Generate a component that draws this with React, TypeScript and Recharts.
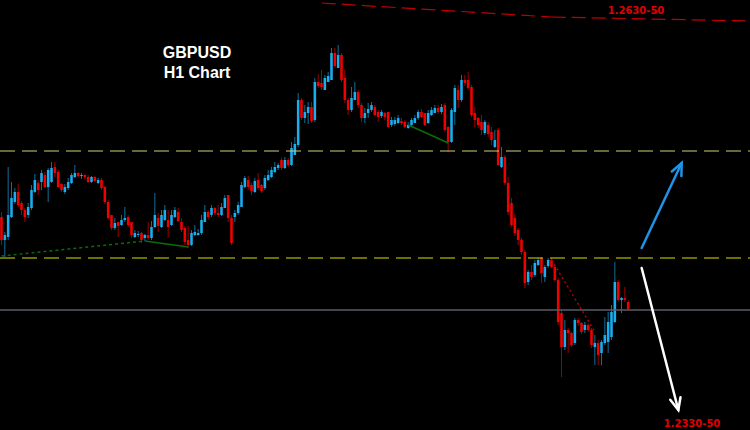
import { Bar, ComposedChart, ReferenceLine, XAxis, YAxis } from 'recharts';

// GBPUSD H1 candles, oldest first (price)
const opens = [
  1.2463, 1.244, 1.2443, 1.2463, 1.2478, 1.2488, 1.2477, 1.247, 1.2465, 1.2472,
  1.2488, 1.2497, 1.2498, 1.2505, 1.2493, 1.2498, 1.2513, 1.2508, 1.2496, 1.2488,
  1.2492, 1.2497, 1.2503, 1.2507, 1.2504, 1.2505, 1.2503, 1.2498, 1.2503, 1.2497, 1.25,
  1.2493, 1.2478, 1.2465, 1.2452, 1.2458, 1.2455, 1.246, 1.2463, 1.2458, 1.2443,
  1.2445, 1.2447, 1.2442, 1.2445, 1.2442, 1.2453, 1.2462, 1.2453, 1.246, 1.246,
  1.2455, 1.2463, 1.2468, 1.2458, 1.2452, 1.244, 1.2435, 1.2445, 1.2445, 1.2447,
  1.2458, 1.2468, 1.2465, 1.2472, 1.2467, 1.2465, 1.2472, 1.2485, 1.2462, 1.2463,
  1.2467, 1.2473, 1.2493, 1.25, 1.2495, 1.2488, 1.25, 1.2495, 1.2492, 1.25,
  1.2503, 1.2508, 1.2512, 1.252, 1.2512, 1.252, 1.2515, 1.2525, 1.2535, 1.258,
  1.2562, 1.2567, 1.2573, 1.256, 1.2598, 1.2597, 1.259, 1.2598, 1.26, 1.2627,
  1.2612, 1.2625, 1.2602, 1.258, 1.257, 1.258, 1.2588, 1.2575, 1.2562, 1.2567,
  1.257, 1.2573, 1.2568, 1.2564, 1.2567, 1.2568, 1.2555, 1.2556, 1.2557, 1.2559,
  1.2558, 1.2552, 1.2555, 1.2557, 1.2562, 1.2568, 1.2567, 1.2557, 1.2565, 1.2567,
  1.2572, 1.2568, 1.2575, 1.2553, 1.2538, 1.2568, 1.259, 1.258, 1.26, 1.26,
  1.2593, 1.2567, 1.2562, 1.2558, 1.2547, 1.2555, 1.2548, 1.2533, 1.255,
  1.2513, 1.2523, 1.2497, 1.2477, 1.2462, 1.245, 1.244, 1.2428, 1.2398, 1.2408,
  1.2405, 1.2415, 1.2422, 1.2403, 1.2414, 1.242, 1.2413, 1.24, 1.2367,
  1.2333, 1.235, 1.2347, 1.2337, 1.236, 1.2357, 1.235, 1.2355, 1.235,
  1.2333, 1.2337, 1.2327, 1.2337, 1.2338, 1.2343, 1.2358, 1.2398, 1.238, 1.2382,
  1.2378,
];

const highs = [
  1.2468, 1.2448, 1.2513, 1.2498, 1.2492, 1.2496, 1.2479, 1.2472, 1.2477, 1.2495,
  1.2506, 1.25, 1.251, 1.2508, 1.2512, 1.2518, 1.2518, 1.251, 1.2497, 1.2496,
  1.2502, 1.2507, 1.2515, 1.2508, 1.2507, 1.2506, 1.2505, 1.2504, 1.2504, 1.2502, 1.2502,
  1.2494, 1.248, 1.2465, 1.2462, 1.2458, 1.2465, 1.2473, 1.2465, 1.2458, 1.245,
  1.2449, 1.2448, 1.2446, 1.2458, 1.2459, 1.2487, 1.2467, 1.247, 1.2475, 1.247,
  1.247, 1.2473, 1.2472, 1.2462, 1.2454, 1.2454, 1.245, 1.2455, 1.2451, 1.2465,
  1.2475, 1.247, 1.2475, 1.2473, 1.2475, 1.2477, 1.2485, 1.2485, 1.2465, 1.247,
  1.2478, 1.2498, 1.2504, 1.2504, 1.2497, 1.2502, 1.2507, 1.2496, 1.2505, 1.251,
  1.2513, 1.2518, 1.2517, 1.2522, 1.2523, 1.2522, 1.2538, 1.2543, 1.2587, 1.2582,
  1.2575, 1.2578, 1.2578, 1.2602, 1.2606, 1.261, 1.2605, 1.2608, 1.2632, 1.2632,
  1.2635, 1.2627, 1.261, 1.2582, 1.2593, 1.2598, 1.259, 1.2577, 1.2572, 1.2577,
  1.2578, 1.2575, 1.257, 1.257, 1.2568, 1.2568, 1.2563, 1.2563, 1.2565, 1.2562,
  1.256, 1.2558, 1.2562, 1.2565, 1.257, 1.2571, 1.2567, 1.257, 1.2573, 1.2575,
  1.2575, 1.2576, 1.2577, 1.2554, 1.2572, 1.2595, 1.2595, 1.2605, 1.2605, 1.2608,
  1.2595, 1.2573, 1.2563, 1.2565, 1.256, 1.2558, 1.2553, 1.255, 1.2552,
  1.2533, 1.2525, 1.2503, 1.2482, 1.2466, 1.2452, 1.2442, 1.243, 1.241, 1.2415,
  1.242, 1.2422, 1.2423, 1.2415, 1.2422, 1.2422, 1.2415, 1.2402, 1.237,
  1.236, 1.2352, 1.2348, 1.2362, 1.2362, 1.2358, 1.2358, 1.2357, 1.2352,
  1.2345, 1.234, 1.234, 1.2363, 1.2368, 1.2375, 1.2418, 1.24, 1.2383, 1.2393,
  1.238,
];

const lows = [
  1.2435, 1.2423, 1.244, 1.2462, 1.2476, 1.2473, 1.2465, 1.2458, 1.2462, 1.247,
  1.2487, 1.2485, 1.249, 1.2492, 1.2478, 1.2497, 1.2503, 1.2492, 1.2488, 1.2486,
  1.249, 1.2496, 1.2502, 1.2502, 1.2501, 1.2501, 1.2497, 1.2497, 1.2498, 1.2496, 1.249,
  1.2476, 1.246, 1.245, 1.245, 1.2443, 1.2454, 1.2458, 1.2453, 1.2442, 1.2442,
  1.2443, 1.2437, 1.2439, 1.244, 1.244, 1.2452, 1.2448, 1.2452, 1.2459, 1.2443,
  1.2454, 1.2462, 1.2458, 1.2448, 1.2435, 1.2432, 1.2434, 1.2444, 1.2444, 1.2445,
  1.2458, 1.246, 1.2463, 1.2465, 1.2463, 1.2464, 1.2472, 1.2458, 1.2435, 1.2458,
  1.2465, 1.2473, 1.2492, 1.249, 1.2485, 1.2487, 1.249, 1.2487, 1.249, 1.2499,
  1.2502, 1.2507, 1.251, 1.251, 1.2511, 1.2513, 1.2514, 1.2525, 1.2533, 1.256,
  1.2557, 1.2556, 1.2557, 1.2558, 1.2592, 1.259, 1.259, 1.2598, 1.26, 1.2612,
  1.2612, 1.2598, 1.2577, 1.2565, 1.2568, 1.258, 1.2572, 1.2558, 1.2557, 1.2562,
  1.2568, 1.2564, 1.2558, 1.2562, 1.256, 1.2552, 1.2553, 1.2554, 1.2556, 1.2555,
  1.2552, 1.2551, 1.2554, 1.2557, 1.256, 1.2562, 1.2554, 1.2556, 1.2564, 1.2567,
  1.2566, 1.2566, 1.2548, 1.2528, 1.2537, 1.2555, 1.2572, 1.2578, 1.2594, 1.259,
  1.2563, 1.2553, 1.2552, 1.2545, 1.2545, 1.2543, 1.2535, 1.2532, 1.2514,
  1.2512, 1.2495, 1.2465, 1.2453, 1.2444, 1.2435, 1.2425, 1.2392, 1.2395, 1.24,
  1.2403, 1.2414, 1.2397, 1.2398, 1.2412, 1.2412, 1.2398, 1.2355, 1.2303,
  1.233, 1.2327, 1.2333, 1.2335, 1.2354, 1.2346, 1.2347, 1.2348, 1.2332,
  1.2315, 1.2315, 1.2315, 1.2335, 1.2327, 1.234, 1.2357, 1.2378, 1.2367, 1.2378,
  1.237,
];

const closes = [
  1.244, 1.2445, 1.2465, 1.2482, 1.2488, 1.2475, 1.247, 1.2463, 1.2473, 1.249,
  1.25, 1.249, 1.2507, 1.2493, 1.251, 1.2512, 1.2507, 1.2493, 1.249, 1.2493,
  1.2498, 1.2505, 1.2507, 1.2504, 1.2505, 1.2503, 1.2498, 1.2503, 1.2499, 1.25, 1.2492,
  1.2478, 1.2462, 1.2452, 1.2457, 1.2454, 1.246, 1.2462, 1.2455, 1.2445, 1.2447,
  1.2446, 1.244, 1.2445, 1.2442, 1.2453, 1.2465, 1.2454, 1.2465, 1.247, 1.2453,
  1.2465, 1.247, 1.2459, 1.245, 1.2438, 1.2435, 1.2447, 1.2448, 1.2447, 1.246,
  1.2468, 1.2463, 1.2472, 1.2467, 1.2465, 1.2473, 1.2482, 1.2462, 1.2437, 1.2467,
  1.2475, 1.2495, 1.2502, 1.2493, 1.2489, 1.2499, 1.2492, 1.2489, 1.2502, 1.2505,
  1.251, 1.2513, 1.2515, 1.2512, 1.252, 1.2515, 1.2532, 1.2536, 1.258, 1.2562,
  1.2568, 1.2573, 1.2559, 1.2598, 1.2594, 1.2593, 1.2602, 1.2604, 1.2627, 1.2614,
  1.2625, 1.26, 1.258, 1.257, 1.2582, 1.2588, 1.2575, 1.2562, 1.2567, 1.2571,
  1.2575, 1.2565, 1.2563, 1.2568, 1.2563, 1.2553, 1.256, 1.256, 1.2562, 1.2557,
  1.2553, 1.2555, 1.256, 1.2562, 1.2568, 1.2563, 1.2555, 1.2567, 1.257, 1.2572,
  1.2568, 1.2573, 1.255, 1.2538, 1.257, 1.2592, 1.258, 1.26, 1.2597, 1.2592,
  1.2565, 1.256, 1.2555, 1.255, 1.2558, 1.2546, 1.254, 1.254, 1.2515,
  1.2523, 1.2497, 1.2468, 1.2455, 1.2447, 1.244, 1.2428, 1.2397, 1.2408, 1.2403,
  1.2417, 1.242, 1.2407, 1.2413, 1.242, 1.2413, 1.24, 1.2358, 1.2333,
  1.235, 1.2347, 1.2335, 1.236, 1.2357, 1.2348, 1.2355, 1.235, 1.2335,
  1.2337, 1.2325, 1.2338, 1.2345, 1.2358, 1.2368, 1.2398, 1.238, 1.2382, 1.238,
  1.2371,
];

// horizontal levels
const upperLevel = 1.2529;
const lowerLevel = 1.2422;
const currentPrice = 1.237;

const SLOTS = 225; // candles plus empty space on the right

const data = Array.from({ length: SLOTS }, (_, i) => {
  if (i >= opens.length) return { i, range: null };
  const o = opens[i];
  const c = closes[i];
  const h = Math.max(highs[i], o, c);
  const l = Math.min(lows[i], o, c);
  return { i, o, h, l, c, range: [l, h] };
});

const CYAN = '#19aef0';
const CYAN_WICK = '#0f6f98';
const RED = '#f20000';
const RED_WICK = '#a00000';

function Candle(props: any) {
  const { x, y, width, height, payload } = props;
  if (!payload || !payload.range) return null;
  const { o, h, l, c } = payload;
  const span = h - l;
  const toY = (v: number) => (span === 0 ? y : y + ((h - v) / span) * height);
  const up = c >= o;
  const cx = x + width / 2;
  const bw = Math.max(2, width * 0.85);
  const top = toY(Math.max(o, c));
  const bot = toY(Math.min(o, c));
  return (
    <g>
      <line x1={cx} x2={cx} y1={y} y2={y + height} stroke={up ? CYAN_WICK : RED_WICK} strokeWidth={1} />
      <rect
        x={cx - bw / 2}
        y={top}
        width={bw}
        height={Math.max(1, bot - top)}
        fill={up ? CYAN : RED}
      />
    </g>
  );
}

function ArrowLine(props: any) {
  const { x1, y1, x2, y2, color } = props;
  if ([x1, y1, x2, y2].some((v) => typeof v !== 'number')) return null;
  const ang = Math.atan2(y2 - y1, x2 - x1);
  const len = 13;
  const spread = 0.42;
  const ax = x2 - len * Math.cos(ang - spread);
  const ay = y2 - len * Math.sin(ang - spread);
  const bx = x2 - len * Math.cos(ang + spread);
  const by = y2 - len * Math.sin(ang + spread);
  return (
    <g stroke={color} strokeWidth={2.5} strokeLinecap="round" fill="none">
      <line x1={x1} y1={y1} x2={x2} y2={y2} />
      <polyline points={`${ax},${ay} ${x2},${y2} ${bx},${by}`} />
    </g>
  );
}

export default function App() {
  return (
    <div style={{ position: 'relative', width: 750, height: 430, background: '#000' }}>
      <style>{'body{margin:0;background:#000}'}</style>
      <ComposedChart width={750} height={430} data={data} margin={{ top: 0, right: 0, bottom: 0, left: 0 }} barCategoryGap={0}>
        <XAxis dataKey="i" type="category" hide />
        <YAxis type="number" domain={[1.225, 1.268]} hide allowDataOverflow />

        <ReferenceLine y={upperLevel} stroke="#cfcf7a" strokeWidth={1.2} strokeDasharray="15 7" />
        <ReferenceLine y={lowerLevel} stroke="#dede00" strokeWidth={1.2} strokeDasharray="15 7" />
        <ReferenceLine y={currentPrice} stroke="#5b5b6b" strokeWidth={1.5} />
        {/* channel line near the top */}
        <ReferenceLine
          segment={[{ x: 96, y: 1.2677 }, { x: 165, y: 1.2663 }]}
          stroke="#c00000"
          strokeWidth={1.2}
          strokeDasharray="14 6"
        />
        <ReferenceLine
          segment={[{ x: 165, y: 1.2663 }, { x: 224, y: 1.2659 }]}
          stroke="#c00000"
          strokeWidth={1.2}
          strokeDasharray="14 6"
        />

        {/* zigzag helpers */}
        <ReferenceLine segment={[{ x: 0, y: 1.2424 }, { x: 43, y: 1.2439 }]} stroke="#0b6b0b" strokeWidth={1.5} strokeDasharray="3 3" />
        <ReferenceLine segment={[{ x: 43, y: 1.2439 }, { x: 56, y: 1.2433 }]} stroke="#0b6b0b" strokeWidth={1.5} />
        <ReferenceLine segment={[{ x: 122, y: 1.2555 }, { x: 134, y: 1.2537 }]} stroke="#0b6b0b" strokeWidth={1.5} />
        <ReferenceLine segment={[{ x: 165, y: 1.242 }, { x: 178, y: 1.2348 }]} stroke="#b00000" strokeWidth={1.5} strokeDasharray="2 3" />

        <Bar dataKey="range" shape={Candle} isAnimationActive={false} />

        <ReferenceLine
          segment={[{ x: 192, y: 1.2432 }, { x: 204, y: 1.2517 }]}
          shape={(p: any) => <ArrowLine {...p} color="#1e94e6" />}
        />
        <ReferenceLine
          segment={[{ x: 192, y: 1.2412 }, { x: 203, y: 1.227 }]}
          shape={(p: any) => <ArrowLine {...p} color="#ffffff" />}
        />
      </ComposedChart>

      <svg width={750} height={430} style={{ position: 'absolute', left: 0, top: 0, pointerEvents: 'none' }}>
        <g fontFamily="Arial, 'Liberation Sans', sans-serif" fontWeight="bold" fontSize={16} fill="#fff" textAnchor="middle">
          <text x={197} y={58}>GBPUSD</text>
          <text x={197} y={78}>H1 Chart</text>
        </g>
        <g fontFamily="'DejaVu Sans', sans-serif" fontWeight="bold" fontSize={10} fill="#e00000" textAnchor="middle">
          <text x={636} y={14}>1.2630-50</text>
          <text x={692} y={427}>1.2330-50</text>
        </g>
      </svg>
    </div>
  );
}
